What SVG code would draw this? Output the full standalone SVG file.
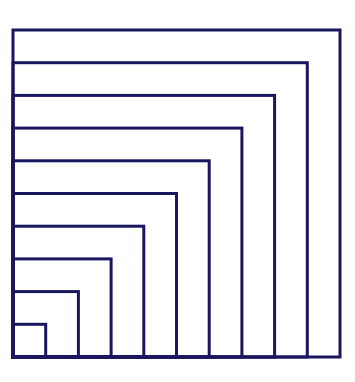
<svg xmlns="http://www.w3.org/2000/svg" width="355" height="382" viewBox="0 0 355 382">
<style>
rect.sq{fill:none;stroke:#1b1660;stroke-width:3}
</style>
<rect width="355" height="382" fill="#ffffff"/>
<g id="squares">
<rect class="sq" x="13" y="30" width="327" height="327"/>
<rect class="sq" x="13" y="62.7" width="294.3" height="294.3"/>
<rect class="sq" x="13" y="95.4" width="261.6" height="261.6"/>
<rect class="sq" x="13" y="128.1" width="228.9" height="228.9"/>
<rect class="sq" x="13" y="160.8" width="196.2" height="196.2"/>
<rect class="sq" x="13" y="193.5" width="163.5" height="163.5"/>
<rect class="sq" x="13" y="226.2" width="130.8" height="130.8"/>
<rect class="sq" x="13" y="258.9" width="98.1" height="98.1"/>
<rect class="sq" x="13" y="291.6" width="65.4" height="65.4"/>
<rect class="sq" x="13" y="324.3" width="32.7" height="32.7"/>
</g>
</svg>
